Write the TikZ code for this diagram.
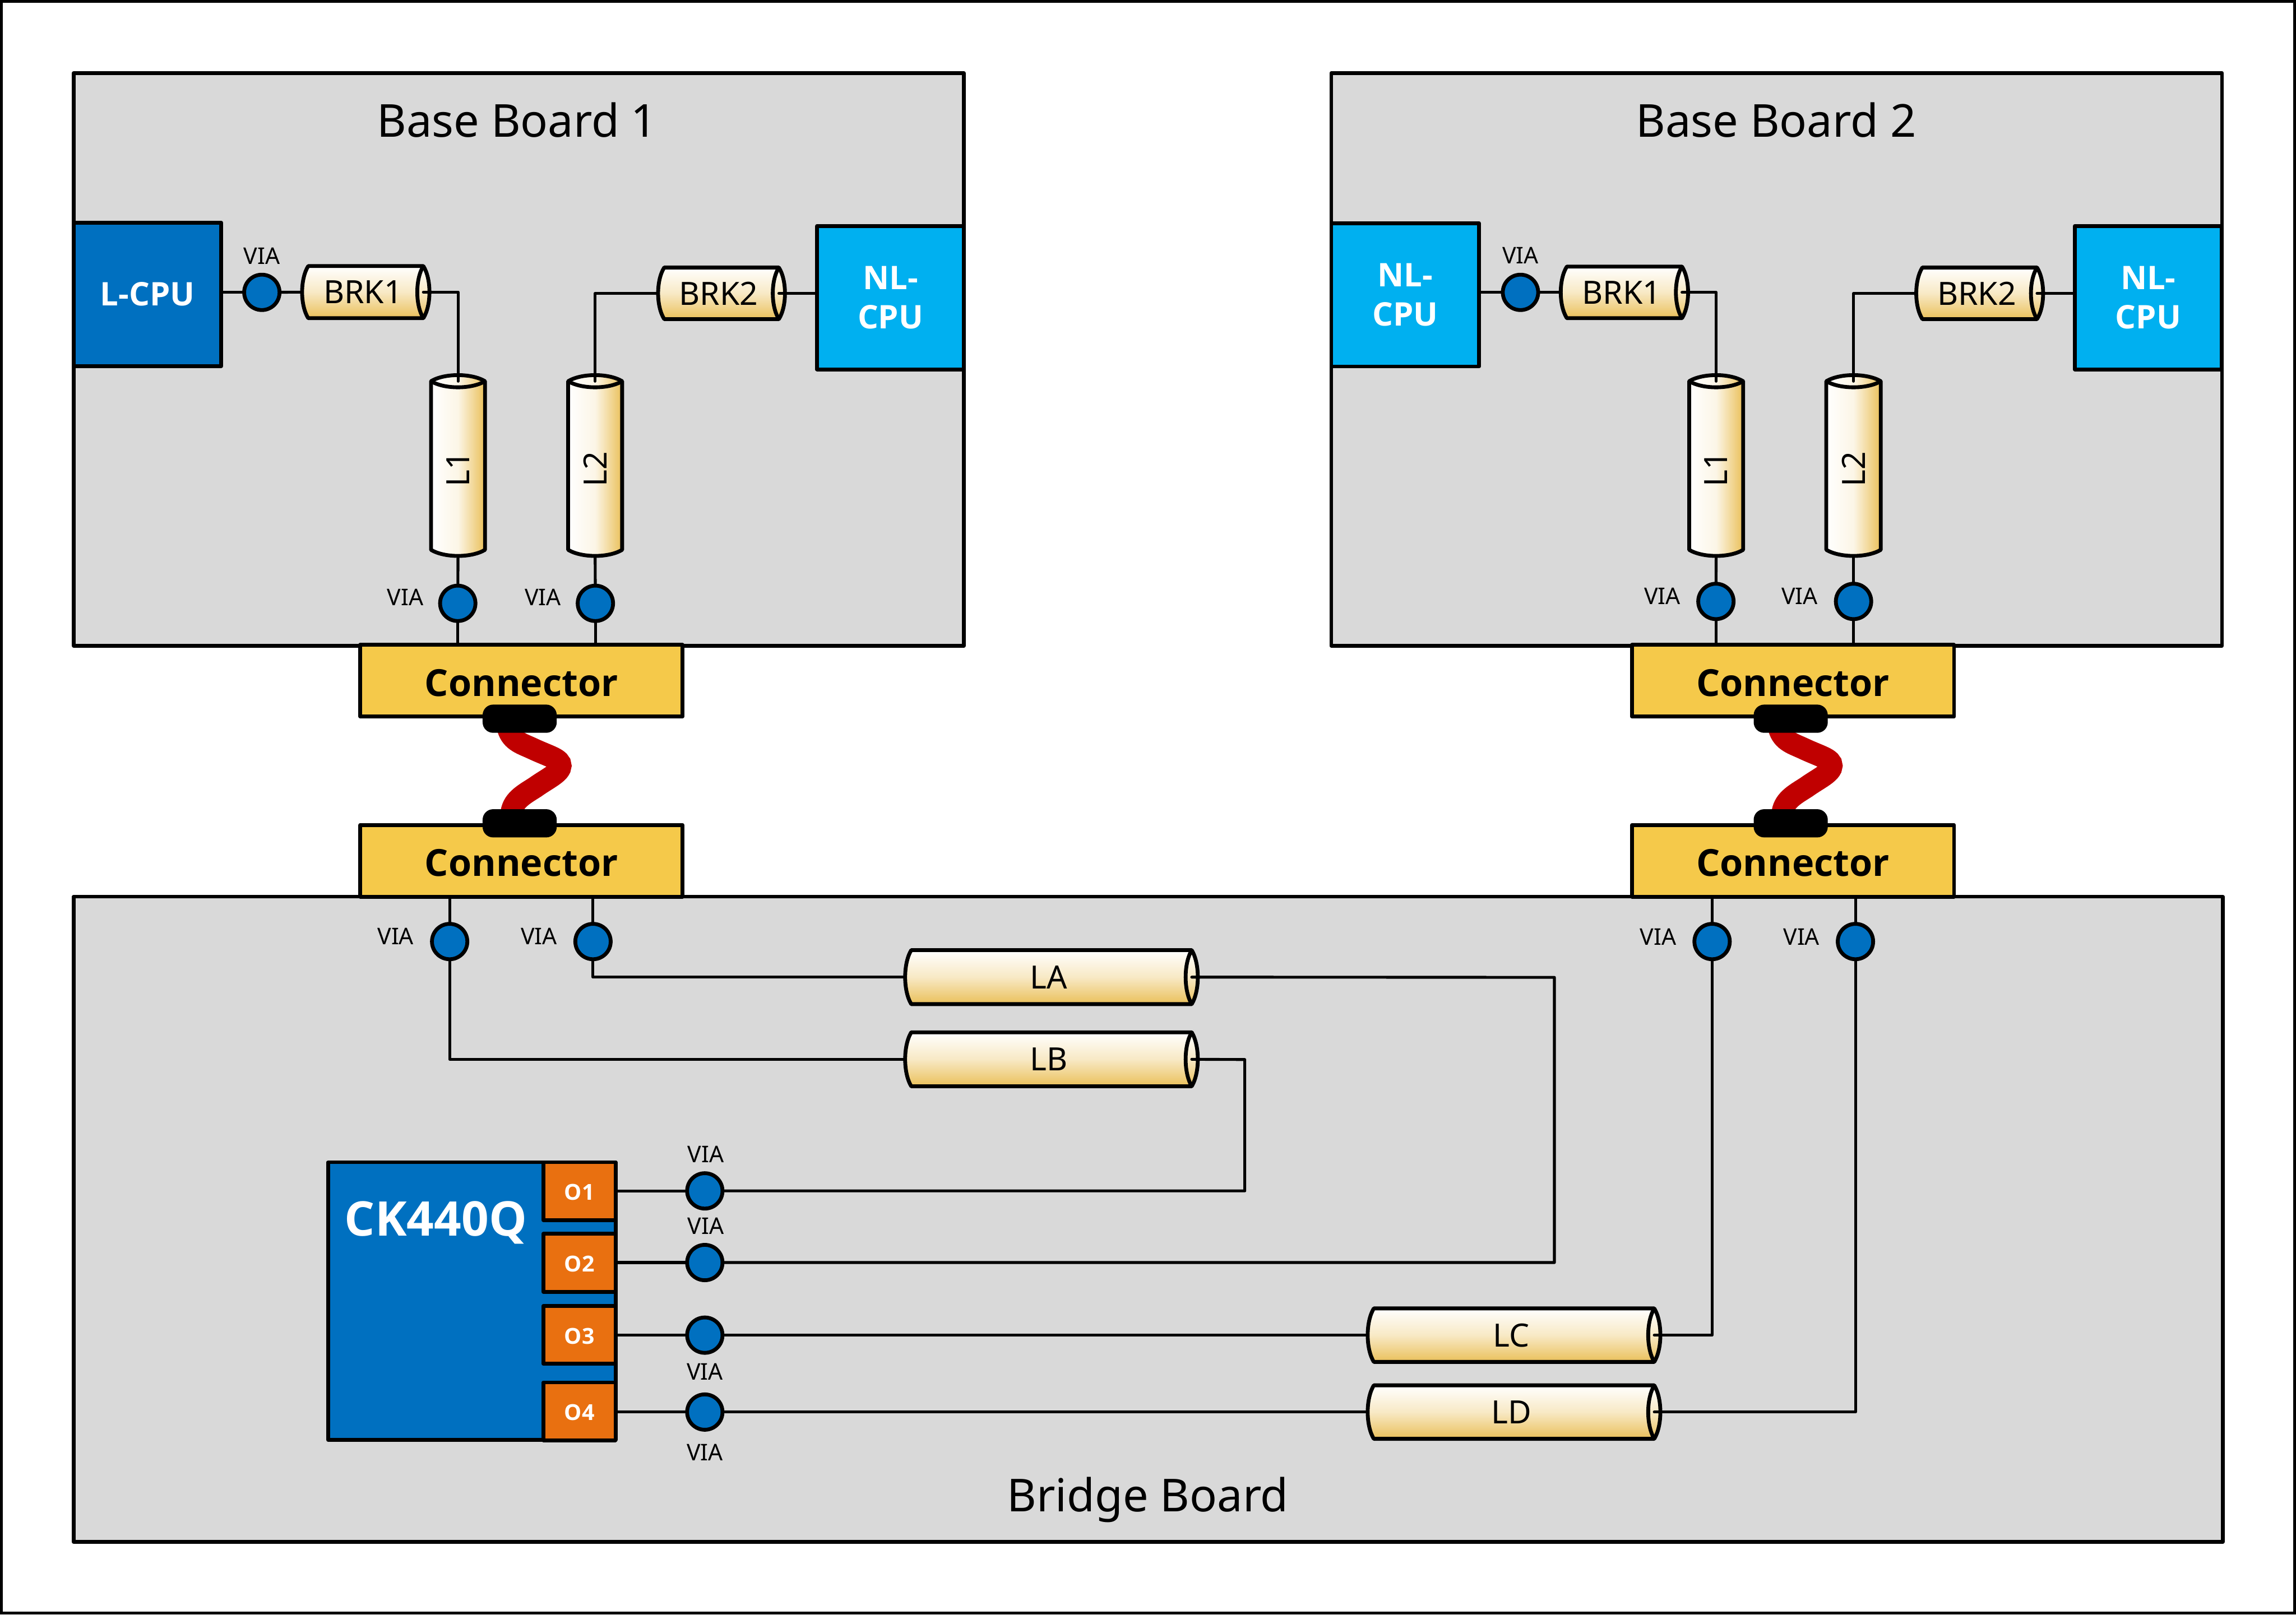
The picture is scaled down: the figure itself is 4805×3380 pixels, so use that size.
\documentclass[tikz,border=0pt]{standalone}
\usepackage{fontspec}
\setmainfont{Noto Sans}
\newfontfamily\boldfam{Open Sans}[UprightFont={* Bold}]
\usetikzlibrary{calc}
\definecolor{boardgrey}{HTML}{D9D9D9}
\definecolor{cpublue}{HTML}{0070C0}
\definecolor{nlblue}{HTML}{00B0F0}
\definecolor{portorange}{HTML}{E97010}
\definecolor{connyellow}{HTML}{F5C94A}
\definecolor{cablered}{HTML}{C00000}
\definecolor{cylgold}{HTML}{EAC05A}
\newcommand\pxfont[1]{\pgfmathsetmacro\tmpfs{#1*0.2845}\pgfmathsetmacro\tmpbs{#1*0.2845*1.22}\fontsize{\tmpfs pt}{\tmpbs pt}\selectfont}
\tikzset{
  x=0.01cm,y=-0.01cm,
  heavy/.style={line width=0.08cm,line join=round},
  wire/.style={line width=0.06cm,line join=round,line cap=round},
  board/.style={heavy,draw,fill=boardgrey,anchor=north west,inner sep=0pt,outer sep=0pt},
  boardtitle/.style={font=\pxfont{95},inner sep=0pt},
  chip/.style={heavy,draw,anchor=north west,inner sep=0pt,outer sep=0pt,text=white,align=center,font=\boldfam\pxfont{68}},
  connbox/.style={heavy,draw,fill=connyellow,anchor=north west,inner sep=0pt,outer sep=0pt,text height=0.64cm,text depth=0pt,font=\boldfam\pxfont{78}},
  via/.style={circle,heavy,draw,fill=cpublue,minimum size=0.74cm,inner sep=0pt,outer sep=0pt},
  vialabel/.style={font=\pxfont{48},inner sep=0pt},
  port/.style={heavy,draw,fill=portorange,anchor=north west,inner sep=0pt,outer sep=0pt,text=white,text height=0.38cm,text depth=0pt,font=\boldfam\pxfont{46}},
  padblock/.style={fill=black,rounded corners=0.22cm,inner sep=0pt,outer sep=0pt,anchor=north west,minimum width=1.55cm,minimum height=0.59cm},
  cable/.style={draw=cablered,line width=0.46cm},
  cylbody/.style={inner sep=0pt,outer sep=0pt},
  cyllabel/.style={inner sep=0pt,font=\pxfont{67}},
}
% horizontal cylinder: name, x1, y1, x2, y2, label
\newcommand\hcyl[6]{%
  \shade[top color=white,bottom color=cylgold,middle color=cylgold!35!white]
    (#2,#3) .. controls (#2-17,#3*3/4+#5/4) and (#2-17,#3/4+#5*3/4) .. (#2,#5)
    -- (#4,#5) .. controls (#4+17,#3/4+#5*3/4) and (#4+17,#3*3/4+#5/4) .. (#4,#3) -- cycle;
  \draw[heavy]
    (#2,#3) .. controls (#2-17,#3*3/4+#5/4) and (#2-17,#3/4+#5*3/4) .. (#2,#5)
    -- (#4,#5) .. controls (#4+17,#3/4+#5*3/4) and (#4+17,#3*3/4+#5/4) .. (#4,#3) -- cycle;
  \draw[heavy] (#4,#3) .. controls (#4-17,#3*3/4+#5/4) and (#4-17,#3/4+#5*3/4) .. (#4,#5);
  \node[cylbody,minimum width={(#4-#2)*0.01cm},minimum height={(#5-#3)*0.01cm}] (#1) at ({(#2+#4)/2},{(#3+#5)/2}) {};
  \node[cyllabel] (#1-text) at ({(#2+#4)/2-6},{(#3+#5)/2}) {#6};
  \coordinate (#1-left) at (#2-13,{(#3+#5)/2});
}
% vertical cylinder: name, x1, y1, x2, y2, label
\newcommand\vcyl[6]{%
  \shade[left color=white,right color=cylgold,middle color=cylgold!15!white]
    (#2,#3) .. controls (#2*3/4+#4/4,#3-17) and (#2/4+#4*3/4,#3-17) .. (#4,#3)
    -- (#4,#5) .. controls (#2/4+#4*3/4,#5+17) and (#2*3/4+#4/4,#5+17) .. (#2,#5) -- cycle;
  \draw[heavy]
    (#2,#3) .. controls (#2*3/4+#4/4,#3-17) and (#2/4+#4*3/4,#3-17) .. (#4,#3)
    -- (#4,#5) .. controls (#2/4+#4*3/4,#5+17) and (#2*3/4+#4/4,#5+17) .. (#2,#5) -- cycle;
  \draw[heavy] (#2,#3) .. controls (#2*3/4+#4/4,#3+17) and (#2/4+#4*3/4,#3+17) .. (#4,#3);
  \node[cylbody,minimum height={(#5-#3)*0.01cm},minimum width={(#4-#2)*0.01cm}] (#1) at ({(#2+#4)/2},{(#3+#5)/2}) {};
  \node[cyllabel,rotate=90] (#1-text) at ({(#2+#4)/2},{(#3+#5)/2+7}) {#6};
  \coordinate (#1-top) at ({(#2+#4)/2},#3);
  \coordinate (#1-bot) at ({(#2+#4)/2},#5+13);
}
\begin{document}
\begin{tikzpicture}
\useasboundingbox (0,0) rectangle (4805,3380);
\fill[white] (0,0) rectangle (4805,3380);
\draw[line width=0.06cm] (3,3) rectangle (4802,3377);
% boards
\node[board,minimum width=18.62cm,minimum height=11.98cm] (bb1) at (154,153) {};
\node[board,minimum width=18.63cm,minimum height=11.98cm] (bb2) at (2786,153) {};
\node[board,minimum width=44.95cm,minimum height=13.5cm] (bridge) at (154,1877) {};
\node[boardtitle] (t1) at (1082,251) {Base Board 1};
\node[boardtitle] (t2) at (3717,251) {Base Board 2};
\node[boardtitle] (t3) at (2402,3140) {Bridge Board};
% cable
\foreach \dx in {0,2660}{
  \begin{scope}[xshift=\dx*0.01cm]
  \draw[cable] (1062,1520) .. controls (1068,1550) and (1090,1556) .. (1112,1566)
     .. controls (1150,1584) and (1173,1588) .. (1173,1603)
     .. controls (1173,1618) and (1145,1630) .. (1120,1648)
     .. controls (1095,1664) and (1072,1676) .. (1070,1705);
  \end{scope}
}
% CPUs
\node[chip,fill=cpublue,minimum width=3.09cm,minimum height=3cm] (lcpu) at (154,466) {L-CPU};
\node[chip,fill=nlblue,minimum width=3.07cm,minimum height=3cm] (nl1) at (1710,473) {NL-\\CPU};
\node[chip,fill=nlblue,minimum width=3.09cm,minimum height=3cm] (nl2) at (2786,467) {NL-\\CPU};
\node[chip,fill=nlblue,minimum width=3.07cm,minimum height=3cm] (nl3) at (4342,473) {NL-\\CPU};
% cylinders, base boards
\hcyl{brka}{645}{557}{886}{666}{BRK1}
\hcyl{brkb}{1390}{560}{1630}{668}{BRK2}
\vcyl{la1}{902}{798}{1015}{1151}{L1}
\vcyl{la2}{1189}{798}{1302}{1151}{L2}
\hcyl{brkc}{3279}{558}{3520}{666}{BRK1}
\hcyl{brkd}{4023}{560}{4263}{668}{BRK2}
\vcyl{lb1}{3535}{798}{3648}{1151}{L1}
\vcyl{lb2}{3822}{798}{3936}{1151}{L2}
% cylinders, bridge
\hcyl{LA}{1907}{1989}{2494}{2102}{LA}
\hcyl{LB}{1907}{2161}{2494}{2274}{LB}
\hcyl{LC}{2875}{2739}{3462}{2851}{LC}
\hcyl{LD}{2875}{2900}{3462}{3012}{LD}
% connectors
\node[connbox,minimum width=6.74cm,minimum height=1.5cm] (c1) at (754,1350) {Connector};
\node[connbox,minimum width=6.74cm,minimum height=1.5cm] (c2) at (754,1727) {Connector};
\node[connbox,minimum width=6.74cm,minimum height=1.5cm] (c3) at (3415,1350) {Connector};
\node[connbox,minimum width=6.74cm,minimum height=1.5cm] (c4) at (3415,1727) {Connector};
\draw[heavy] (bridge.north west) -- (bridge.north east);
\node[padblock] (p1) at (1010,1475) {};
\node[padblock] (p2) at (1010,1694) {};
\node[padblock] (p3) at (3670,1475) {};
\node[padblock] (p4) at (3670,1694) {};
% vias
\node[via] (va) at (548,612) {};
\node[via] (vb) at (3182,612) {};
\node[via] (v1) at (958,1263) {};
\node[via] (v2) at (1246,1263) {};
\node[via] (v3) at (3591,1259) {};
\node[via] (v4) at (3879,1259) {};
\node[via] (w1) at (941,1971) {};
\node[via] (w2) at (1241,1971) {};
\node[via] (w3) at (3583,1971) {};
\node[via] (w4) at (3883,1971) {};
\node[via] (u1) at (1475,2493) {};
\node[via] (u2) at (1475,2643) {};
\node[via] (u3) at (1475,2795) {};
\node[via] (u4) at (1475,2956) {};
% chip
\node[chip,fill=cpublue,minimum width=6.01cm,minimum height=5.81cm] (ck) at (687,2433) {};
\node[text=white,inner sep=0pt,font=\boldfam\pxfont{100}] (cklabel) at (912,2560) {CK440Q};
\node[port,minimum width=1.51cm,minimum height=1.21cm] (o1) at (1137,2433) {O1};
\node[port,minimum width=1.51cm,minimum height=1.21cm] (o2) at (1137,2583) {O2};
\node[port,minimum width=1.51cm,minimum height=1.21cm] (o3) at (1137,2734) {O3};
\node[port,minimum width=1.51cm,minimum height=1.21cm] (o4) at (1137,2894) {O4};
% wires
\draw[wire] (lcpu.east |- va) -- (va);
\draw[wire] (va) -- (brka-left);
\draw[wire] (brka.east) -| (la1-top);
\draw[wire] (la1-bot) -- (v1);
\draw[wire] (v1) -- (v1 |- c1.north);
\draw[wire] (brkb-left) -| (la2-top);
\draw[wire] (brkb.east) -- (nl1.west |- brkb);
\draw[wire] (la2-bot) -- (v2);
\draw[wire] (v2) -- (v2 |- c1.north);
\draw[wire] (nl2.east |- vb) -- (vb);
\draw[wire] (vb) -- (brkc-left);
\draw[wire] (brkc.east) -| (lb1-top);
\draw[wire] (lb1-bot) -- (v3);
\draw[wire] (v3) -- (v3 |- c3.north);
\draw[wire] (brkd-left) -| (lb2-top);
\draw[wire] (brkd.east) -- (nl3.west |- brkd);
\draw[wire] (lb2-bot) -- (v4);
\draw[wire] (v4) -- (v4 |- c3.north);
\draw[wire] (w1 |- bridge.north) -- (w1);
\draw[wire] (w2 |- bridge.north) -- (w2);
\draw[wire] (w3 |- bridge.north) -- (w3);
\draw[wire] (w4 |- bridge.north) -- (w4);
\draw[wire] (w1) |- (LB-left);
\draw[wire] (w2) |- (LA-left);
\draw[wire] (o1.east |- u1) -- (u1);
\draw[wire] (o2.east |- u2) -- (u2);
\draw[wire] (o3.east |- u3) -- (u3);
\draw[wire] (o4.east |- u4) -- (u4);
\coordinate (turnb) at (2605,2218);
\coordinate (turna) at (3253,2046);
\draw[wire] (u1) -| (turnb) -- (LB.east);
\draw[wire] (u2) -| (turna) -- (LA.east);
\draw[wire] (u3) -- (LC-left);
\draw[wire] (u4) -- (LD-left);
\draw[wire] (LC.east) -| (w3);
\draw[wire] (LD.east) -| (w4);
% via labels
\foreach \n/\px/\py in {a/548/536,b/3182/535,c/848/1250,d/1136/1250,e/3479/1248,f/3766/1248,g/828/1960,h/1128/1960,i/3470/1961,j/3770/1961,k/1477/2416,l/1477/2567,m/1475/2871,n/1475/3040}
  \node[vialabel] (lab\n) at (\px,\py) {VIA};
\end{tikzpicture}
\end{document}
